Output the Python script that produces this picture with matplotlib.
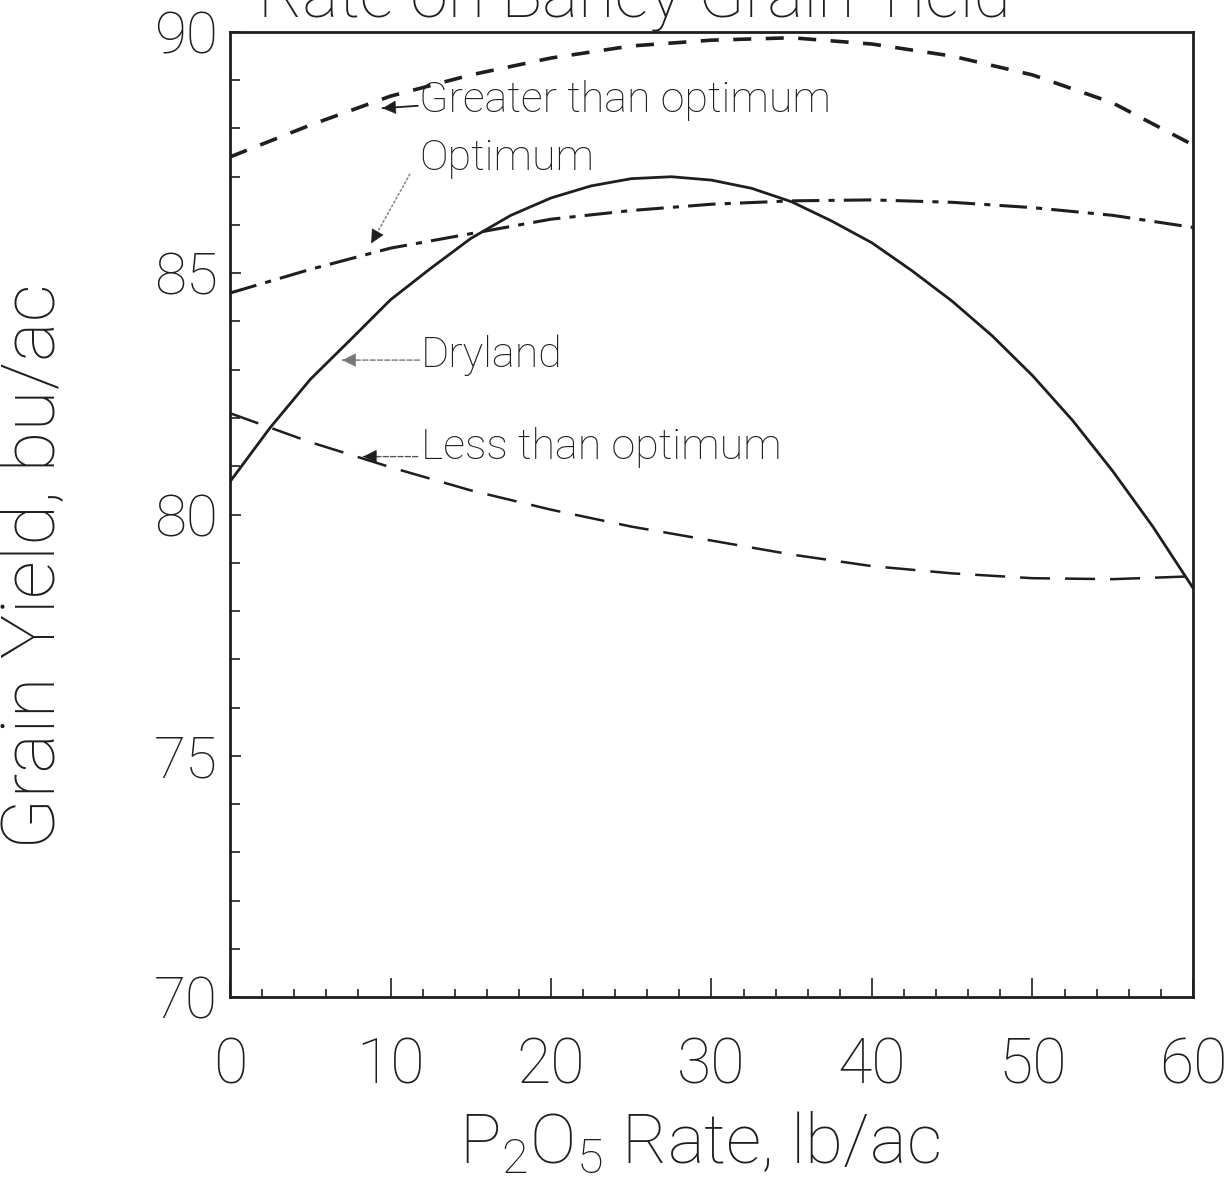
import matplotlib
matplotlib.use('Agg')
import matplotlib.pyplot as plt
from matplotlib.ticker import MultipleLocator

# ---------------------------------------------------------------------------
# values (P2O5 rate lb/ac vs grain yield bu/ac)
# ---------------------------------------------------------------------------
rate = [0, 5, 10, 15, 20, 25, 30, 35, 40, 45, 50, 55, 60]

greater = [87.41, 88.07, 88.67, 89.11, 89.46, 89.71, 89.83, 89.88, 89.75,
           89.50, 89.11, 88.53, 87.66]
optimum = [84.59, 85.08, 85.52, 85.82, 86.12, 86.30, 86.43, 86.50, 86.52,
           86.47, 86.36, 86.20, 85.95]
less = [82.10, 81.50, 80.98, 80.50, 80.10, 79.75, 79.46, 79.17, 78.93,
        78.78, 78.68, 78.66, 78.72]

# dryland read at a finer step (the curve bends more)
rate_dry = [0, 2.5, 5, 7.5, 10, 12.5, 15, 17.5, 20, 22.5, 25, 27.5, 30,
            32.5, 35, 37.5, 40, 42.5, 45, 47.5, 50, 52.5, 55, 57.5, 60]
dryland = [80.68, 81.80, 82.80, 83.62, 84.45, 85.10, 85.72, 86.20, 86.56,
           86.81, 86.96, 87.00, 86.93, 86.76, 86.48, 86.08, 85.63, 85.05,
           84.42, 83.70, 82.88, 81.95, 80.90, 79.75, 78.48]

# label text, text anchor (x, y), arrow tail (x, y), arrow tip (x, y)
labels = ['Greater than optimum', 'Optimum', 'Dryland', 'Less than optimum']
label_xy = [(11.8, 88.57), (11.8, 87.38), (11.9, 83.3), (11.9, 81.38)]
tail_xy = [(11.7, 88.47), (11.2, 87.05), (11.8, 83.2), (11.7, 81.2)]
tip_xy = [(9.5, 88.42), (8.8, 85.62), (7.0, 83.2), (8.3, 81.2)]

FONT = ['Roboto', 'DejaVu Sans']
plt.rcParams['font.family'] = FONT
plt.rcParams['font.weight'] = 'light'
plt.rcParams['axes.labelweight'] = 'light'
plt.rcParams['mathtext.fontset'] = 'custom'
plt.rcParams['mathtext.rm'] = 'Roboto:light'
plt.rcParams['mathtext.it'] = 'Roboto:light'

INK = '#1e1e1e'

fig = plt.figure(figsize=(12.32, 11.84), dpi=100)
ax = fig.add_axes([0.1867, 0.1579, 0.7816, 0.8151])

ax.plot(rate, greater, color=INK, lw=2.6, ls=(0, (5, 4)))
ax.plot(rate, optimum, color=INK, lw=2.2, ls=(0, (9, 3, 2, 3)))
ax.plot(rate_dry, dryland, color=INK, lw=2.0, ls='-')
ax.plot(rate, less, color=INK, lw=1.8, ls=(0, (12, 6)))

# arrow shafts (line colour / style) and heads drawn separately
shaft = [
    dict(color=INK, lw=1.3, ls='-'),
    dict(color='#8a8a8a', lw=1.2, ls=':'),
    dict(color='#777777', lw=1.0, ls='--'),
    dict(color='#555555', lw=1.0, ls='--'),
]
head_col = [INK, INK, '#777777', INK]
for i, text in enumerate(labels):
    ax.text(label_xy[i][0], label_xy[i][1], text, fontsize=31, color=INK,
            ha='left', va='center')
    ax.annotate('', xy=tip_xy[i], xytext=tail_xy[i],
                arrowprops=dict(arrowstyle='-', shrinkA=0, shrinkB=0,
                                **shaft[i]))
    # short solid piece just behind the tip, carrying the filled head
    hx = tip_xy[i][0] + 0.12 * (tail_xy[i][0] - tip_xy[i][0])
    hy = tip_xy[i][1] + 0.12 * (tail_xy[i][1] - tip_xy[i][1])
    ax.annotate('', xy=tip_xy[i], xytext=(hx, hy),
                arrowprops=dict(arrowstyle='-|>', color=head_col[i], lw=0.5,
                                mutation_scale=22, shrinkA=0, shrinkB=0))

ax.set_xlim(0, 60)
ax.set_ylim(70, 90)
ax.xaxis.set_major_locator(MultipleLocator(10))
ax.xaxis.set_minor_locator(MultipleLocator(2))
ax.yaxis.set_major_locator(MultipleLocator(5))
ax.yaxis.set_minor_locator(MultipleLocator(1))

ax.tick_params(which='both', direction='in', color=INK, width=1.2)
ax.tick_params(axis='x', which='major', length=14, pad=28, labelsize=45,
               labelcolor=INK)
ax.tick_params(axis='x', which='minor', length=6)
ax.tick_params(axis='y', which='major', length=8, pad=9, labelsize=42,
               labelcolor=INK)
ax.tick_params(axis='y', which='minor', length=7)
for sp in ax.spines.values():
    sp.set_linewidth(2.0)
    sp.set_color(INK)

ax.set_ylabel('Grain Yield, bu/ac', fontsize=54, color=INK)
ax.yaxis.set_label_coords(-0.166, 0.446)
ax.set_xlabel('P$_2$O$_5$ Rate, lb/ac', fontsize=50, color=INK)
ax.xaxis.set_label_coords(0.488, -0.118)

# title is cut off at the top edge in the reference
fig.text(0.515, 0.985, 'Rate on Barley Grain Yield', fontsize=49,
         color=INK, ha='center', va='baseline')

fig.savefig('out.png', dpi=100)
